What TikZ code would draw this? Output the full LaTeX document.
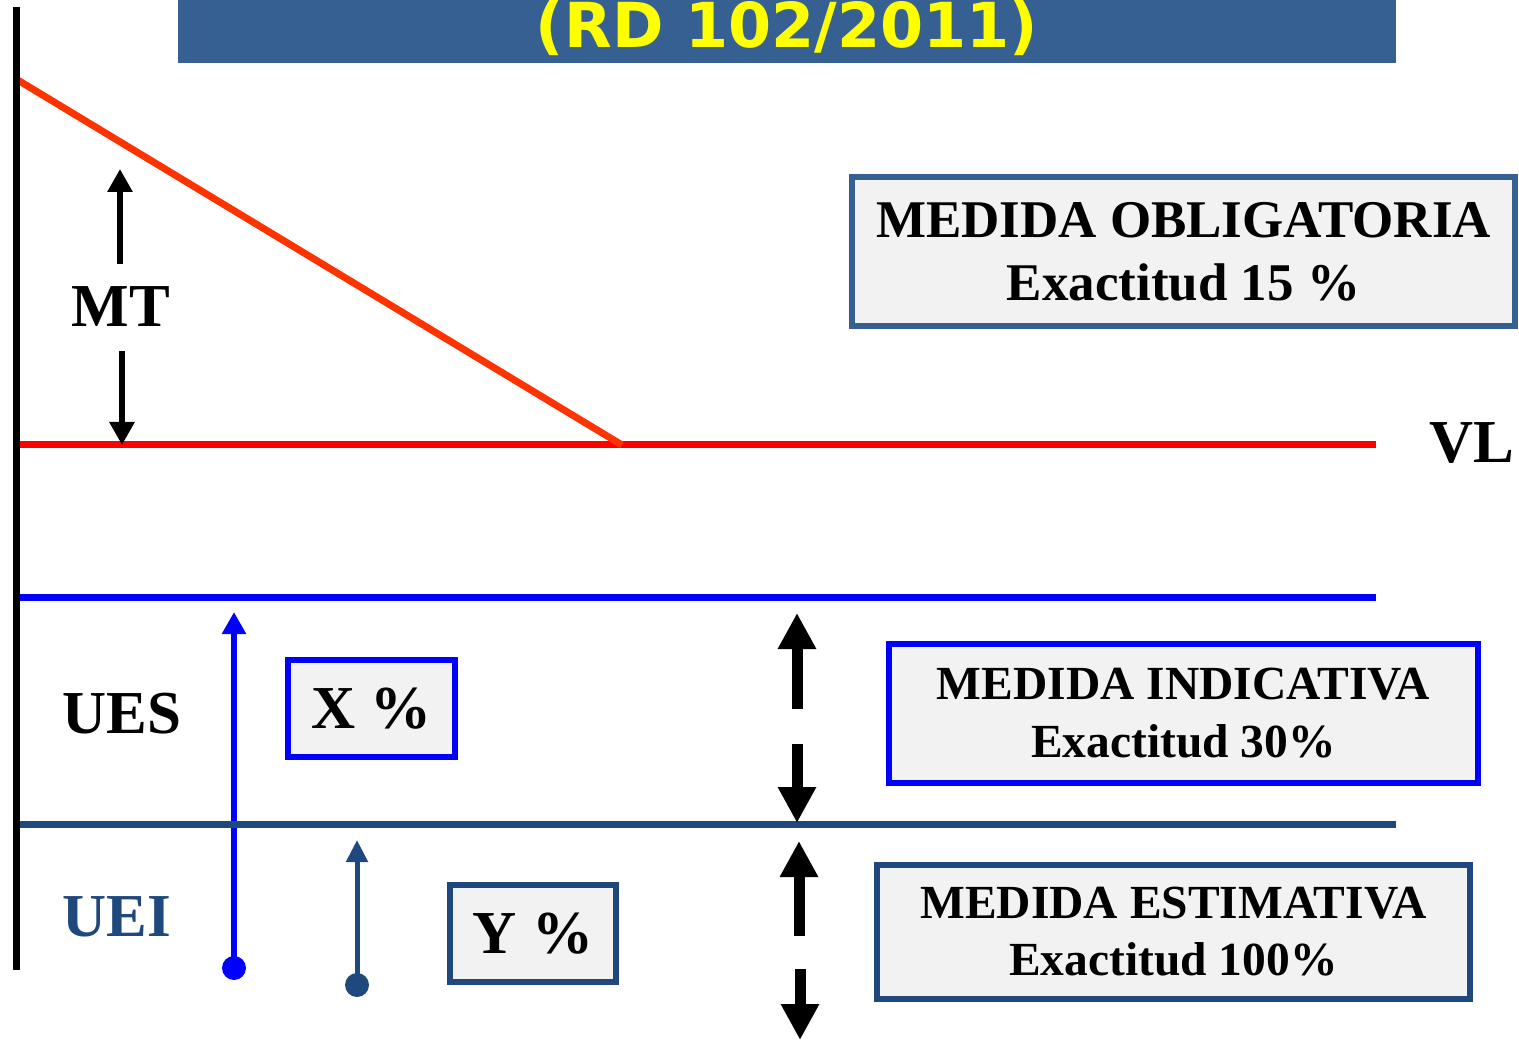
\documentclass[tikz,border=0pt]{standalone}
\usepackage{fontspec}
\setmainfont{Liberation Serif}
\newfontfamily\titlefont{DejaVu Sans}
\usetikzlibrary{arrows.meta}
\definecolor{hdr}{RGB}{55,96,146}
\definecolor{dkblue}{RGB}{31,73,125}
\definecolor{orng}{RGB}{255,51,0}
\definecolor{boxfill}{RGB}{242,242,242}
\definecolor{ylw}{RGB}{255,255,0}
\begin{document}
\begin{tikzpicture}[x=1pt,y=-1pt,
  lbl/.style={inner sep=0, anchor=base, font=\bfseries\fontsize{61}{61}\selectfont},
  infobox/.style={draw, line width=6.5, fill=boxfill, inner sep=0, align=center},
  thinarrow/.style={line width=6.5, -{Triangle[width=24pt,length=23pt]}},
  fatarrow/.style={line width=11, -{Triangle[width=36pt,length=36pt]}},
  level/.style={line width=7}
]
\useasboundingbox (0,0) rectangle (1519,1040);
\clip (0,0) rectangle (1519,1040);

% banner
\node[fill=hdr, minimum width=1218, minimum height=63, inner sep=0, anchor=north west] (banner) at (178,0) {};
\node[inner sep=0, anchor=base, text=ylw, font=\titlefont\bfseries\fontsize{62}{62}\selectfont] (title) at (787,48) {(RD 102/2011)};

% coordinates
\coordinate (axtop) at (16,7);
\coordinate (axbot) at (16,970);
\coordinate (o1) at (16,79);
\coordinate (o2) at (622,445);
\coordinate (vl1) at (16,445);
\coordinate (vl2) at (1376,445);
\coordinate (ues1) at (16,597);
\coordinate (ues2) at (1376,597);
\coordinate (uei1) at (20,824);
\coordinate (uei2) at (1396,824);

% levels
\draw[level, red] (vl1) -- (vl2);
\draw[level, orng] (o1) -- (o2);
\draw[level, blue] (ues1) -- (ues2);

% MT arrows
\coordinate (mtu1) at (120,264);
\coordinate (mtu2) at (120,169);
\coordinate (mtd1) at (122,351);
\coordinate (mtd2) at (122,445);
\draw[thinarrow] (mtu1) -- (mtu2);
\draw[thinarrow] (mtd1) -- (mtd2);

% blue arrows with dots
\coordinate (bd) at (234,968);
\coordinate (bt) at (234,612);
\draw[blue, line width=6, -{Triangle[width=23pt,length=22pt]}] (bd) -- (bt);
\fill[blue] (bd) circle (12);
\coordinate (dd) at (357,985);
\coordinate (dt) at (357,840);
\draw[dkblue, line width=5, -{Triangle[width=21pt,length=22pt]}] (dd) -- (dt);
\fill[dkblue] (dd) circle (12);

\draw[line width=7, dkblue] (uei1) -- (uei2);
\draw[line width=7] (axtop) -- (axbot);

% fat arrows
\coordinate (f1a) at (797,709);
\coordinate (f1b) at (797,613);
\coordinate (f2a) at (797,744);
\coordinate (f2b) at (797,823);
\coordinate (f3a) at (799,936);
\coordinate (f3b) at (799,841);
\coordinate (f4a) at (800,969);
\coordinate (f4b) at (800,1040);
\draw[fatarrow] (f1a) -- (f1b);
\draw[fatarrow] (f2a) -- (f2b);
\draw[fatarrow] (f3a) -- (f3b);
\draw[fatarrow] (f4a) -- (f4b);

% labels
\node[lbl] (mt) at (121,327) {MT};
\node[lbl] (vl) at (1472,463) {VL};
\node[lbl] (ues) at (122,733) {UES};
\node[lbl, text=dkblue] (uei) at (117,936) {UEI};

% boxes
\node[infobox, draw=blue, minimum width=167, minimum height=97, font=\bfseries\fontsize{61}{61}\selectfont] (xbox) at (371.5,708.5) {X \%};
\node[infobox, draw=dkblue, minimum width=166, minimum height=97, font=\bfseries\fontsize{61}{61}\selectfont] (ybox) at (533,933.5) {Y \%};

\node[infobox, draw=hdr, minimum width=663, minimum height=149, font=\bfseries\fontsize{53}{63}\selectfont] (obl) at (1183.5,251.5) {MEDIDA OBLIGATORIA\\Exactitud 15 \%};
\node[infobox, draw=blue, minimum width=589, minimum height=139, font=\bfseries\fontsize{47.5}{58}\selectfont] (ind) at (1183.5,713.5) {MEDIDA INDICATIVA\\Exactitud 30\%};
\node[infobox, draw=dkblue, minimum width=593, minimum height=134, font=\bfseries\fontsize{47.5}{57}\selectfont] (est) at (1173.5,932) {MEDIDA ESTIMATIVA\\Exactitud 100\%};
\end{tikzpicture}
\end{document}
